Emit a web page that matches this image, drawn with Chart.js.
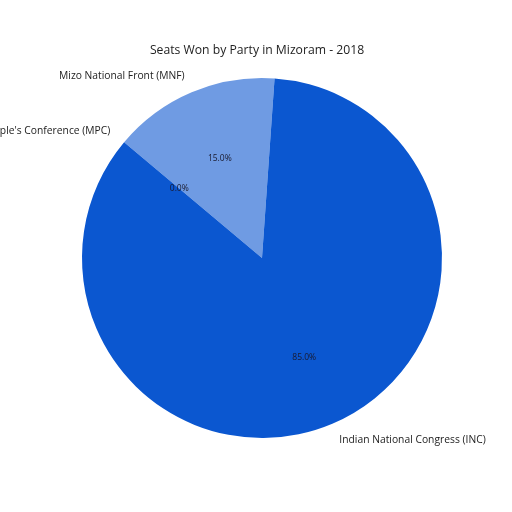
<!DOCTYPE html>
<html>
<head>
<meta charset="utf-8">
<script src="https://cdn.jsdelivr.net/npm/chart.js@4/dist/chart.umd.min.js"></script>
<style>
  html, body { margin: 0; padding: 0; background: #fff; }
  canvas { display: block; }
</style>
</head>
<body>
<canvas id="chart" width="512" height="512"></canvas>
<script>
// data, in drawing order (clockwise from the start angle)
const parties = ['Mizo People\'s Conference (MPC)', 'Mizo National Front (MNF)', 'Indian National Congress (INC)'];
const seats = [0, 6, 34];
const sliceColors = ['#0b57d0', '#6f9be3', '#0b57d0'];
const chartTitle = 'Seats Won by Party in Mizoram - 2018';

const FONT = '"Open Sans", "DejaVu Sans", sans-serif';

// draws the outer labels, the percentages and the title
const pieLabels = {
    id: 'pieLabels',
    afterDatasetsDraw(chart) {
        const ctx = chart.ctx;
        const meta = chart.getDatasetMeta(0);
        const total = seats.reduce((a, b) => a + b, 0);
        ctx.save();
        meta.data.forEach((arc, i) => {
            const { x, y, startAngle, endAngle, outerRadius } = arc.getProps(['x', 'y', 'startAngle', 'endAngle', 'outerRadius'], true);
            const mid = (startAngle + endAngle) / 2;
            const cos = Math.cos(mid);
            const sin = Math.sin(mid);

            ctx.fillStyle = '#222';
            ctx.font = '10.3px ' + FONT;
            ctx.textBaseline = 'middle';
            ctx.textAlign = cos >= 0 ? 'left' : 'right';
            ctx.fillText(parties[i], x + cos * outerRadius * 1.1, y + sin * outerRadius * 1.1);

            const pct = (seats[i] / total * 100).toFixed(1) + '%';
            ctx.fillStyle = '#1a1a2e';
            ctx.font = '8.5px ' + FONT;
            ctx.textAlign = 'center';
            ctx.fillText(pct, x + cos * outerRadius * 0.6, y + sin * outerRadius * 0.6);
        });

        ctx.fillStyle = '#222';
        ctx.font = '12.2px ' + FONT;
        ctx.textAlign = 'center';
        ctx.textBaseline = 'middle';
        ctx.fillText(chartTitle, 257, 51);
        ctx.restore();
    }
};

new Chart(document.getElementById('chart'), {
    type: 'pie',
    data: {
        labels: parties,
        datasets: [{
            data: seats,
            backgroundColor: sliceColors,
            borderWidth: 0
        }]
    },
    options: {
        responsive: false,
        animation: false,
        rotation: -50,
        layout: {
            padding: { left: 82, right: 70, top: 78, bottom: 74 }
        },
        events: [],
        plugins: {
            legend: { display: false },
            tooltip: { enabled: false },
            title: { display: false }
        }
    },
    plugins: [pieLabels]
});
</script>
</body>
</html>
